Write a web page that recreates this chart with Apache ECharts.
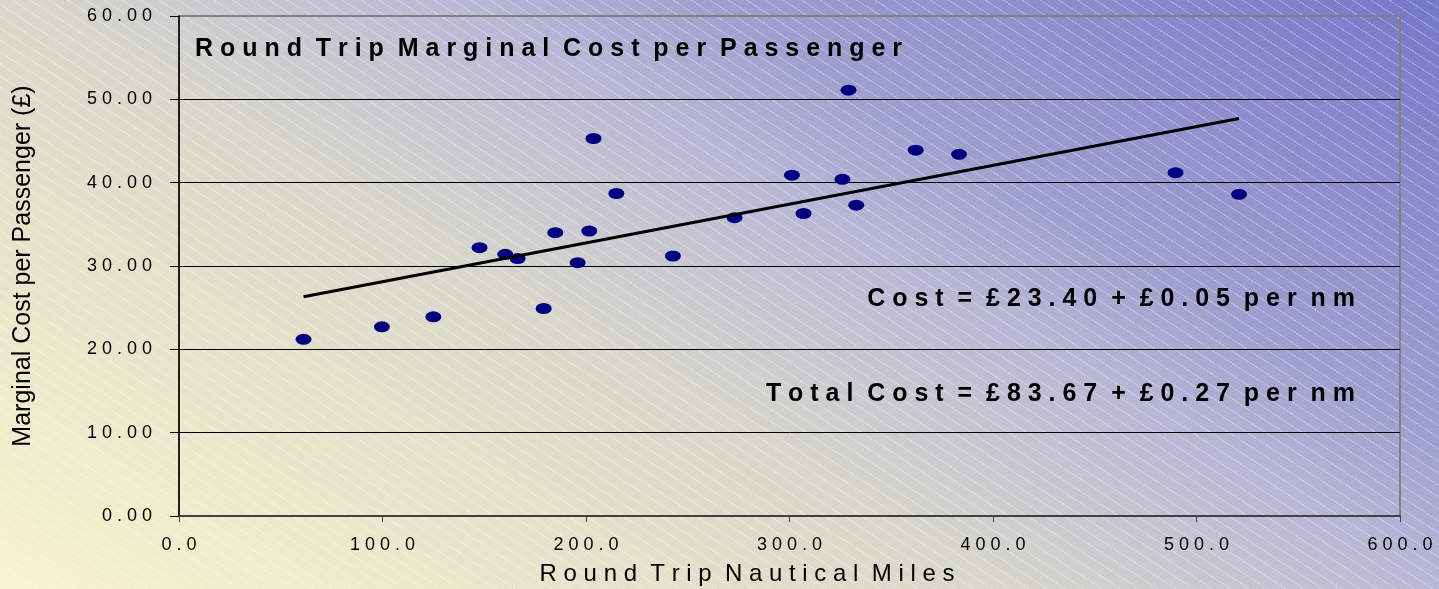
<!DOCTYPE html>
<html>
<head>
<meta charset="utf-8">
<title>Round Trip Marginal Cost per Passenger</title>
<script src="https://cdn.jsdelivr.net/npm/echarts@6/dist/echarts.min.js"></script>
<style>
  html, body { margin: 0; padding: 0; }
  #chart {
    width: 1439px;
    height: 589px;
    background:
      repeating-linear-gradient(33deg, rgba(255,255,255,0.28) 0px, rgba(255,255,255,0.28) 1px, rgba(255,255,255,0) 1px, rgba(255,255,255,0) 10px),
      linear-gradient(31deg, #f6f5cd 0%, #e3e2ca 28%, #d6d6cb 42%, #b9b9d6 59%, #9f9fcf 70%, #7878cb 100%);
  }
</style>
</head>
<body>
<div id="chart"></div>
<script>
// Round trip distance (nautical miles) and marginal cost per passenger (£) per route
const miles = [61.2, 99.7, 125.0, 147.7, 160.3, 166.4, 179.2, 184.9, 195.9, 201.6, 203.7, 214.9,
               242.7, 273.0, 301.2, 306.9, 326.0, 329.0, 332.8, 362.0, 383.3, 489.7, 520.9];
const cost  = [21.2, 22.7, 23.9, 32.2, 31.4, 30.9, 24.9, 34.0, 30.4, 34.2, 45.3, 38.7,
               31.2, 35.8, 40.9, 36.3, 40.4, 51.1, 37.3, 43.9, 43.4, 41.2, 38.6];

const chartTitle = 'Round Trip Marginal Cost per Passenger';
const xTitle = 'Round Trip Nautical Miles';
const yTitle = 'Marginal Cost per Passenger (£)';
const marginalEquation = 'Cost = £23.40 + £0.05 per nm';
const totalEquation = 'Total Cost = £83.67 + £0.27 per nm';

// Widely tracked lettering: one space between letters, two between words
function spaced(s) {
  return String(s).split(' ').map(w => w.split('').join(' ')).join('  ');
}

// Least-squares trend line through the points, spanning the data range
function trend(xs, ys) {
  const n = xs.length;
  const mx = xs.reduce((a, b) => a + b, 0) / n;
  const my = ys.reduce((a, b) => a + b, 0) / n;
  let sxy = 0, sxx = 0;
  for (let i = 0; i < n; i++) {
    sxy += (xs[i] - mx) * (ys[i] - my);
    sxx += (xs[i] - mx) * (xs[i] - mx);
  }
  const slope = sxy / sxx;
  const icpt = my - slope * mx;
  const x0 = Math.min(...xs), x1 = Math.max(...xs);
  return [[x0, icpt + slope * x0], [x1, icpt + slope * x1]];
}

const points = miles.map((m, i) => [m, cost[i]]);
const fitLine = trend(miles, cost);

const FONT = "'Liberation Sans', Arial, Helvetica, sans-serif";

const chart = echarts.init(document.getElementById('chart'), null, { renderer: 'canvas' });

chart.setOption({
  animation: false,
  backgroundColor: 'transparent',
  grid: {
    left: 179, right: 39, top: 16, bottom: 73,
    show: true,
    borderColor: '#808080',
    borderWidth: 2,
    backgroundColor: 'transparent'
  },
  xAxis: {
    type: 'value',
    min: 0, max: 600, interval: 100,
    axisLine: { show: true, onZero: false, lineStyle: { color: '#404040', width: 2 } },
    axisTick: { show: true, length: 6, lineStyle: { color: '#404040', width: 1 } },
    axisLabel: {
      margin: 20,
      fontFamily: FONT, fontSize: 18, color: '#000',
      formatter: v => spaced(v.toFixed(1))
    },
    splitLine: { show: false }
  },
  yAxis: {
    type: 'value',
    min: 0, max: 60, interval: 10,
    axisLine: { show: true, onZero: false, lineStyle: { color: '#000', width: 1.5 } },
    axisTick: { show: true, length: 9, lineStyle: { color: '#000', width: 1 } },
    axisLabel: {
      margin: 27,
      fontFamily: FONT, fontSize: 18, color: '#000',
      formatter: v => spaced(v.toFixed(2))
    },
    splitLine: {
      show: true, showMinLine: false, showMaxLine: false,
      lineStyle: { color: '#000', width: 1 }
    }
  },
  series: [
    {
      type: 'scatter',
      data: points,
      symbol: 'circle',
      symbolSize: [16, 11],
      itemStyle: { color: '#000080', opacity: 1 },
      z: 3
    },
    {
      type: 'line',
      data: fitLine,
      symbol: 'none',
      lineStyle: { color: '#000', width: 3 },
      silent: true,
      z: 4
    }
  ],
  graphic: [
    {
      type: 'text', x: 195, y: 49,
      style: { text: spaced(chartTitle), fontFamily: FONT, fontSize: 25, fontWeight: 'bold', fill: '#000',
               align: 'left', verticalAlign: 'middle' }
    },
    {
      type: 'text', x: 1355, y: 299,
      style: { text: spaced(marginalEquation), fontFamily: FONT, fontSize: 25, fontWeight: 'bold', fill: '#000',
               align: 'right', verticalAlign: 'middle' }
    },
    {
      type: 'text', x: 1355, y: 394,
      style: { text: spaced(totalEquation), fontFamily: FONT, fontSize: 25, fontWeight: 'bold', fill: '#000',
               align: 'right', verticalAlign: 'middle' }
    },
    {
      type: 'text', x: 747, y: 574,
      style: { text: spaced(xTitle), fontFamily: FONT, fontSize: 24, fill: '#000',
               align: 'center', verticalAlign: 'middle' }
    },
    {
      type: 'text', x: 23, y: 266, rotation: Math.PI / 2,
      style: { text: yTitle, fontFamily: FONT, fontSize: 25, fill: '#000',
               align: 'center', verticalAlign: 'middle' }
    }
  ]
});
</script>
</body>
</html>
